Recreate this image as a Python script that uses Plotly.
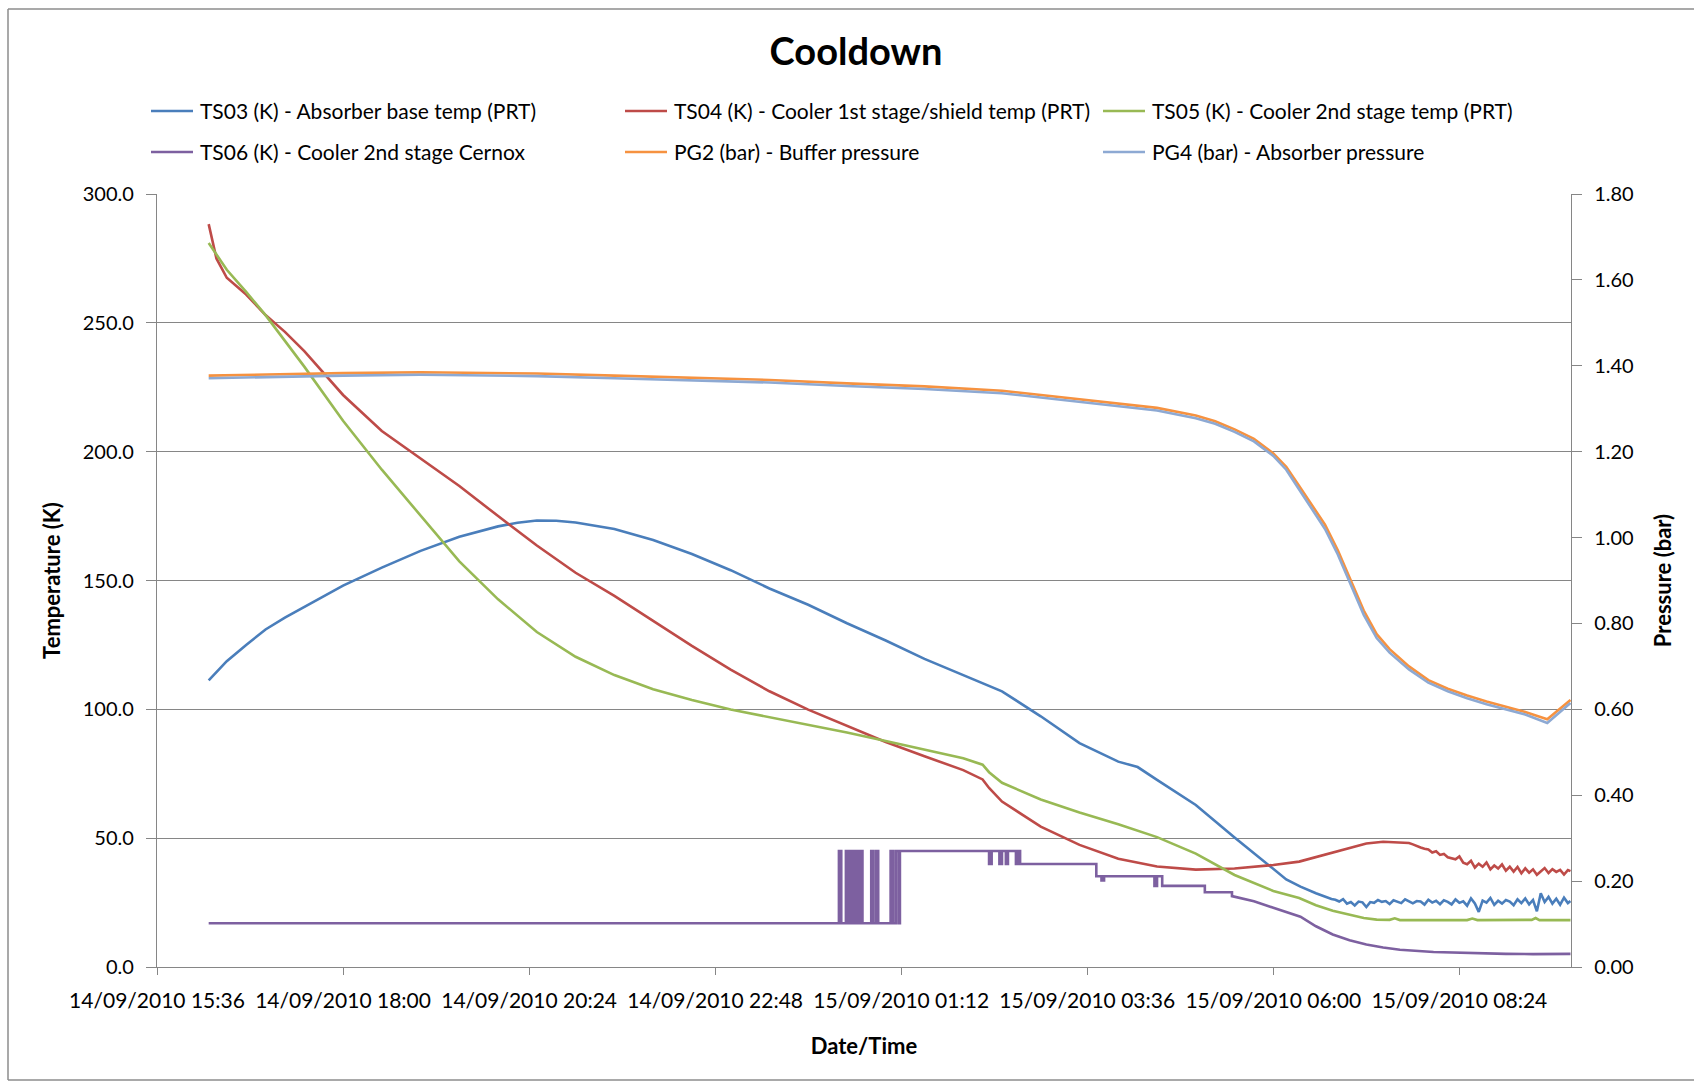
import pandas as pd
import plotly.graph_objects as go


def stamps(labels):
    """Turn 'DD HH:MM[:SS]' labels (September 2010) into timestamps."""
    return pd.to_datetime(["2010-09-" + s for s in labels], format="mixed")


# ---------------- TS03 : absorber base temperature (K) ----------------
ts03_time_smooth = [
    "14 16:16", "14 16:30", "14 16:45", "14 17:00", "14 17:15", "14 17:30",
    "14 17:45", "14 18:00", "14 18:30", "14 19:00", "14 19:30", "14 20:00",
    "14 20:15", "14 20:30", "14 20:45", "14 21:00", "14 21:30", "14 22:00",
    "14 22:30", "14 23:00", "14 23:30", "15 00:00", "15 00:30", "15 01:00",
    "15 01:30", "15 02:00", "15 02:30", "15 03:00", "15 03:30", "15 04:00",
    "15 04:15", "15 04:30", "15 05:00", "15 05:30", "15 06:00", "15 06:10",
    "15 06:21", "15 06:33", "15 06:45",
]
ts03_smooth = [
    111.2, 118.7, 125.0, 131.0, 135.6, 139.7,
    143.9, 148.0, 155.0, 161.5, 167.0, 171.0,
    172.4, 173.3, 173.2, 172.5, 170.0, 165.7,
    160.3, 154.0, 146.9, 140.6, 133.4, 126.7,
    119.6, 113.3, 107.0, 97.3, 86.9, 79.7,
    77.6, 72.6, 62.9, 50.3, 37.8, 34.0,
    31.2, 28.6, 26.4,
]
# 3-minute samples from 06:48 to 09:48, then the last reading at 09:50
ts03_tail = [
    26.1, 25.4, 26.3, 24.6, 25.2, 23.9, 25.4, 25.1, 23.3, 25.2,
    24.9, 26.0, 25.3, 25.6, 24.4, 25.9, 25.5, 24.8, 26.3, 25.6,
    24.7, 25.6, 25.4, 24.2, 26.1, 25.0, 25.7, 24.4, 25.9, 25.3,
    24.3, 26.2, 24.9, 25.5, 23.8, 26.6, 24.7, 21.4, 25.8, 25.0,
    26.8, 24.1, 25.7, 24.6, 26.0, 25.4, 24.0, 26.3, 24.8, 26.6,
    24.3, 26.0, 21.6, 28.6, 25.2, 27.2, 24.6, 26.5, 24.2, 26.9,
    24.8, 25.6,
]

# ---------------- TS04 : cooler 1st stage / shield (K) ----------------
ts04_time_smooth = [
    "14 16:16", "14 16:19", "14 16:22", "14 16:30", "14 16:45", "14 17:00",
    "14 17:15", "14 17:30", "14 17:45", "14 18:00", "14 18:30", "14 19:00",
    "14 19:30", "14 20:00", "14 20:30", "14 21:00", "14 21:30", "14 22:00",
    "14 22:30", "14 23:00", "14 23:30", "15 00:00", "15 00:30", "15 01:00",
    "15 01:30", "15 02:00", "15 02:15", "15 02:20", "15 02:30", "15 03:00",
    "15 03:30", "15 04:00", "15 04:30", "15 05:00", "15 05:30", "15 06:00",
    "15 06:20", "15 06:46", "15 07:00", "15 07:12", "15 07:25", "15 07:38",
]
ts04_smooth = [
    288.3, 281.0, 275.0, 267.5, 261.0, 253.0,
    246.5, 239.0, 230.5, 222.0, 208.0, 197.2,
    186.7, 175.0, 163.6, 153.0, 144.0, 134.3,
    124.6, 115.4, 107.0, 99.9, 93.6, 87.3,
    81.8, 76.4, 72.8, 69.5, 64.2, 54.5,
    47.4, 42.0, 39.0, 37.8, 38.2, 39.6,
    40.9, 44.4, 46.2, 47.9, 48.6, 48.3,
]
# 3-minute samples from 07:45 to 09:48, then 09:50
ts04_tail = [
    48.1, 47.6, 46.9, 46.4, 45.9, 45.6, 44.4, 44.9, 43.5, 43.9,
    42.6, 42.1, 41.8, 42.9, 40.5, 39.9, 41.2, 38.6, 40.1, 38.9,
    40.6, 37.9, 39.4, 38.2, 39.8, 37.4, 38.9, 37.0, 38.8, 36.4,
    38.3, 36.6, 37.9, 35.8, 37.2, 38.4, 36.5, 38.0, 36.9, 37.7,
    35.9, 37.6, 37.2,
]

# ---------------- TS05 : cooler 2nd stage PRT (K) ----------------
ts05_time = [
    "14 16:16", "14 16:30", "14 16:45", "14 17:00", "14 17:30", "14 18:00",
    "14 18:30", "14 19:00", "14 19:30", "14 20:00", "14 20:30", "14 21:00",
    "14 21:30", "14 22:00", "14 22:30", "14 23:00", "14 23:30", "15 00:00",
    "15 00:30", "15 01:00", "15 01:30", "15 02:00", "15 02:15", "15 02:20",
    "15 02:30", "15 03:00", "15 03:30", "15 04:00", "15 04:30", "15 05:00",
    "15 05:30", "15 06:00", "15 06:20", "15 06:33", "15 06:46", "15 07:00",
    "15 07:10", "15 07:20", "15 07:30", "15 07:34", "15 07:38", "15 08:30",
    "15 08:34", "15 08:38", "15 09:20", "15 09:23", "15 09:26", "15 09:50",
]
ts05 = [
    281.0, 270.6, 262.0, 253.0, 233.0, 212.0,
    193.0, 175.0, 157.4, 142.7, 130.0, 120.4,
    113.3, 107.8, 103.6, 99.9, 96.9, 94.0,
    91.0, 87.7, 84.3, 81.0, 78.5, 75.6,
    71.5, 65.0, 60.0, 55.4, 50.4, 44.0,
    35.7, 29.5, 26.8, 24.0, 21.8, 20.0,
    19.0, 18.4, 18.3, 18.9, 18.2, 18.2,
    18.8, 18.2, 18.3, 19.0, 18.2, 18.2,
]

# ---------------- TS06 : cooler 2nd stage Cernox (K) ----------------
ts06_time = [
    "14 16:16", "15 00:23:48", "15 00:23:48", "15 00:25:36", "15 00:25:36",
    "15 00:29:12", "15 00:29:12", "15 00:31:00", "15 00:31:00", "15 00:32:48",
    "15 00:32:48", "15 00:34:24", "15 00:34:24", "15 00:36:12", "15 00:36:12",
    "15 00:38:00", "15 00:38:00", "15 00:40:00", "15 00:40:00", "15 00:42:00",
    "15 00:42:00", "15 00:48:48", "15 00:48:48", "15 00:50:18", "15 00:50:18",
    "15 00:52:24", "15 00:52:24", "15 00:54:12", "15 00:54:12", "15 01:03:48",
    "15 01:03:48", "15 01:05:48", "15 01:05:48", "15 01:07:54", "15 01:07:54",
    "15 01:10:00", "15 01:10:00", "15 01:11:00", "15 01:11:00", "15 02:20:00",
    "15 02:20:00", "15 02:22:00", "15 02:22:00", "15 02:28:00", "15 02:28:00",
    "15 02:30:00", "15 02:30:00", "15 02:33:00", "15 02:33:00", "15 02:34:36",
    "15 02:34:36", "15 02:40:48", "15 02:40:48", "15 02:42:24", "15 02:42:24",
    "15 02:44:00", "15 02:44:00", "15 03:43:00", "15 03:43:00", "15 03:47:00",
    "15 03:47:00", "15 03:49:00", "15 03:49:00", "15 04:28:00", "15 04:28:00",
    "15 04:30:00", "15 04:30:00", "15 04:34:00", "15 04:34:00", "15 05:07:00",
    "15 05:07:00", "15 05:28:00", "15 05:28:00", "15 05:45:00", "15 06:00:00",
    "15 06:10:00", "15 06:21:00", "15 06:33:00", "15 06:46:00", "15 06:59:00",
    "15 07:12:00", "15 07:25:00", "15 07:38:00", "15 08:04:00", "15 08:30:00",
    "15 09:00:00", "15 09:21:00", "15 09:50:00",
]
ts06 = [
    17.0, 17.0, 45.0, 45.0, 17.0,
    17.0, 45.0, 45.0, 17.0, 17.0,
    45.0, 45.0, 17.0, 17.0, 45.0,
    45.0, 17.0, 17.0, 45.0, 45.0,
    17.0, 17.0, 45.0, 45.0, 17.0,
    17.0, 45.0, 45.0, 17.0, 17.0,
    45.0, 45.0, 17.0, 17.0, 45.0,
    45.0, 17.0, 17.0, 45.0, 45.0,
    40.0, 40.0, 45.0, 45.0, 40.0,
    40.0, 45.0, 45.0, 40.0, 40.0,
    45.0, 45.0, 40.0, 40.0, 45.0,
    45.0, 40.0, 40.0, 35.2, 35.2,
    33.6, 33.6, 35.2, 35.2, 31.5,
    31.5, 35.2, 35.2, 31.5, 31.5,
    29.0, 29.0, 27.5, 25.5, 23.0,
    21.3, 19.5, 15.8, 12.6, 10.4,
    8.7, 7.6, 6.7, 5.8, 5.4,
    5.1, 5.0, 5.1,
]

# ---------------- Pressures (bar) ----------------
pg_time = [
    "14 16:16", "14 17:00", "14 18:00", "14 19:00", "14 20:00", "14 20:30",
    "14 21:30", "14 22:30", "14 23:30", "15 00:30", "15 01:30", "15 02:30",
    "15 03:00", "15 03:30", "15 04:00", "15 04:30", "15 05:00", "15 05:15",
    "15 05:30", "15 05:45", "15 06:00", "15 06:10", "15 06:20", "15 06:30",
    "15 06:40", "15 06:50", "15 07:00", "15 07:10", "15 07:20", "15 07:30",
    "15 07:45", "15 08:00", "15 08:15", "15 08:30", "15 08:45", "15 09:00",
    "15 09:15", "15 09:32", "15 09:50",
]
pg2 = [
    1.377, 1.380, 1.383, 1.385, 1.383, 1.382,
    1.377, 1.372, 1.367, 1.359, 1.352, 1.342,
    1.332, 1.322, 1.312, 1.302, 1.284, 1.271,
    1.252, 1.230, 1.196, 1.165, 1.120, 1.075,
    1.030, 0.970, 0.900, 0.830, 0.775, 0.740,
    0.700, 0.668, 0.648, 0.632, 0.618, 0.606,
    0.594, 0.577, 0.622,
]
pg4 = [
    1.371, 1.374, 1.377, 1.379, 1.377, 1.376,
    1.371, 1.366, 1.361, 1.353, 1.346, 1.336,
    1.326, 1.316, 1.306, 1.296, 1.278, 1.265,
    1.246, 1.224, 1.190, 1.158, 1.112, 1.066,
    1.020, 0.960, 0.890, 0.820, 0.766, 0.732,
    0.693, 0.662, 0.642, 0.626, 0.612, 0.600,
    0.588, 0.568, 0.615,
]

names = [
    "TS03 (K) - Absorber base temp (PRT)",
    "TS04 (K) - Cooler 1st stage/shield temp (PRT)",
    "TS05 (K) - Cooler 2nd stage temp (PRT)",
    "TS06 (K) - Cooler 2nd stage Cernox",
    "PG2 (bar) - Buffer pressure",
    "PG4 (bar) - Absorber pressure",
]
colors = ["#4A7EBB", "#BE4B48", "#98B954", "#7D60A0", "#F69240", "#8DA9D3"]

# Assemble the full time stamps
ts03_x = stamps(ts03_time_smooth).append(
    pd.date_range("2010-09-15 06:48", "2010-09-15 09:48", freq="3min")
).append(stamps(["15 09:50"]))
ts03_y = ts03_smooth + ts03_tail

ts04_x = stamps(ts04_time_smooth).append(
    pd.date_range("2010-09-15 07:45", "2010-09-15 09:48", freq="3min")
).append(stamps(["15 09:50"]))
ts04_y = ts04_smooth + ts04_tail

series = [
    (ts03_x, ts03_y, "y"),
    (ts04_x, ts04_y, "y"),
    (stamps(ts05_time), ts05, "y"),
    (stamps(ts06_time), ts06, "y"),
    (stamps(pg_time), pg2, "y2"),
    (stamps(pg_time), pg4, "y2"),
]

fig = go.Figure()
for (x, y, yax), name, col in zip(series, names, colors):
    fig.add_trace(go.Scatter(
        x=x, y=y, name=name, mode="lines", yaxis=yax,
        line=dict(color=col, width=2.6), showlegend=False,
    ))

W, H = 1694, 1085
L, R, T, B = 157, 123, 194, 118
PW, PH = W - L - R, H - T - B
AX = "#868686"
label_font = dict(family="Lato", size=21, color="#000000")
num_font = dict(family="Lato", size=20, color="#000000")
title_font = dict(family="Lato", size=22, color="#000000", weight="bold")


def px(v):
    """Page pixel column -> paper x."""
    return (v - L) / PW


def py(v):
    """Page pixel row -> paper y."""
    return (H - B - v) / PH


fig.update_layout(
    width=W, height=H,
    margin=dict(l=L, r=R, t=T, b=B, autoexpand=False),
    paper_bgcolor="white", plot_bgcolor="white",
    showlegend=False,
    title=dict(text="Cooldown", x=856 / W, xref="container", xanchor="center",
               y=1 - 52 / H, yref="container", yanchor="middle",
               font=dict(family="Lato", size=38, color="#000000", weight="bold")),
    xaxis=dict(
        type="date",
        range=["2010-09-14 15:36", "2010-09-15 09:50:24"],
        tick0="2010-09-14 15:36", dtick=2.4 * 3600 * 1000,
        tickformat="%d/%m/%Y %H:%M",
        showgrid=False, showline=True, linecolor=AX, linewidth=1.3,
        ticks="outside", ticklen=7, tickcolor=AX, tickwidth=1.3,
        tickfont=label_font, ticklabelstandoff=8,
        title=dict(text="Date/Time", font=title_font, standoff=27),
        zeroline=False, automargin=False,
    ),
    yaxis=dict(
        range=[0, 300], dtick=50, tickformat=".1f",
        showgrid=True, gridcolor=AX, gridwidth=1.3,
        showline=True, linecolor=AX, linewidth=1.3,
        ticks="outside", ticklen=10, tickcolor=AX, tickwidth=1.3,
        tickfont=num_font, ticklabelstandoff=8,
        title=dict(text="Temperature (K)", font=title_font, standoff=16),
        zeroline=False, automargin=False,
    ),
    yaxis2=dict(
        range=[0, 1.8], dtick=0.2, tickformat=".2f",
        overlaying="y", side="right", showgrid=False,
        showline=True, linecolor=AX, linewidth=1.3,
        ticks="outside", ticklen=10, tickcolor=AX, tickwidth=1.3,
        tickfont=num_font, ticklabelstandoff=8,
        title=dict(text="Pressure (bar)", font=title_font, standoff=22),
        zeroline=False, automargin=False,
    ),
)

# Legend: two rows of three entries, line sample followed by the series name
legend_rows = [111, 152]
legend_cols = [151, 625, 1103]
for i, (name, col) in enumerate(zip(names, colors)):
    row_y = legend_rows[i // 3]
    col_x = legend_cols[i % 3]
    fig.add_shape(type="line", xref="paper", yref="paper",
                  x0=px(col_x), x1=px(col_x + 42), y0=py(row_y), y1=py(row_y),
                  line=dict(color=col, width=2.6))
    fig.add_annotation(xref="paper", yref="paper", x=px(col_x + 47), y=py(row_y),
                       text=name, showarrow=False, xanchor="left", yanchor="middle",
                       font=dict(family="Lato", size=21, color="#000000"))

# Chart-area frame (right edge runs off the page)
frame = dict(type="line", xref="paper", yref="paper",
             line=dict(color="#8C8C8C", width=1.5), layer="above")
fig.add_shape(frame, x0=px(8), x1=px(1700), y0=py(9), y1=py(9))
fig.add_shape(frame, x0=px(8), x1=px(8), y0=py(9), y1=py(1080))
fig.add_shape(frame, x0=px(8), x1=px(1700), y0=py(1080), y1=py(1080))

fig.write_html("out.html")
